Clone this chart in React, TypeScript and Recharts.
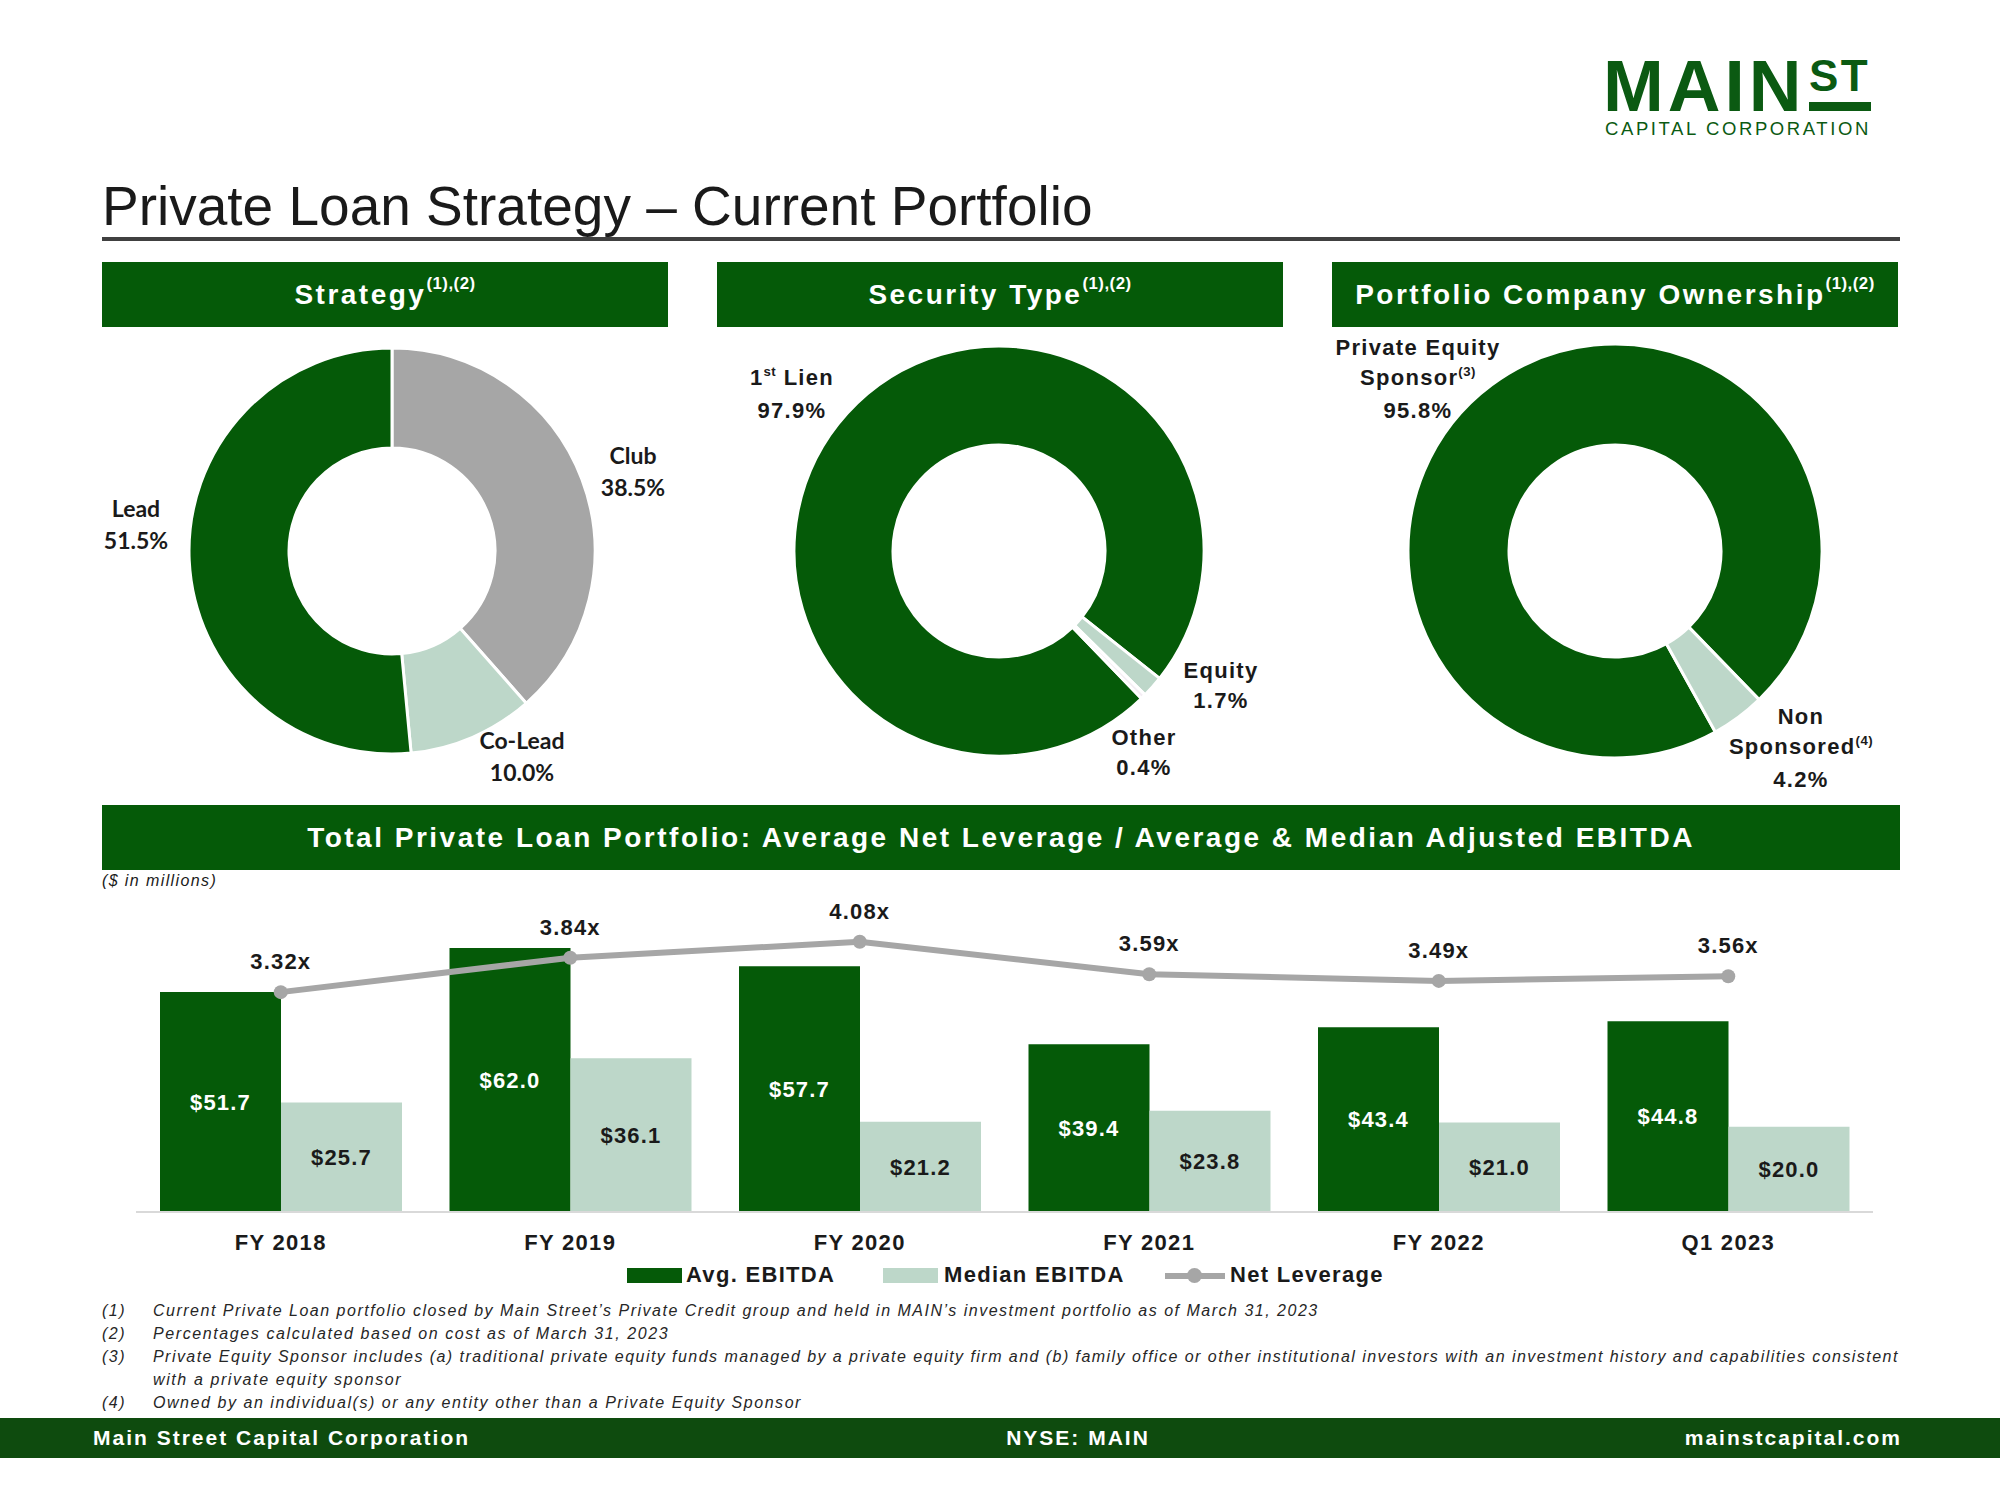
import React from 'react';
import { PieChart, Pie, Cell, ComposedChart, Bar, Line, XAxis, YAxis, LabelList } from 'recharts';

const SANS = '"Liberation Sans", Arial, Helvetica, sans-serif';
const CALIBRI = 'Lato, "Open Sans", sans-serif';

const DARK = '#055A08';
const LIGHT = '#BDD7C9';
const GRAY = '#A6A6A6';
const OTHER = '#F4EEF4';
const FOOT = '#0E4B0E';
const INK = '#1A1A1A';
const LOGO = '#0B5A12';

// ---- Donut data ----
const strategyNames = ['Club', 'Co-Lead', 'Lead'];
const strategyValues = [38.5, 10.0, 51.5];
const strategyColors = [GRAY, LIGHT, DARK];
const strategyLabelPos = [[633, 439], [522, 724], [136, 492]];

const securityNames = ['1st Lien', 'Equity', 'Other'];
const securityValues = [97.9, 1.7, 0.4];
const securityColors = [DARK, LIGHT, OTHER];
const securityLabelPos = [[792, 363], [1221, 656], [1144, 723]];

const ownershipNames = ['Private Equity\nSponsor', 'Non\nSponsored'];
const ownershipNotes = ['(3)', '(4)'];
const ownershipValues = [95.8, 4.2];
const ownershipColors = [DARK, LIGHT];
const ownershipLabelPos = [[1418, 333], [1801, 702]];

// ---- Bar / line data ----
const periods = ['FY 2018', 'FY 2019', 'FY 2020', 'FY 2021', 'FY 2022', 'Q1 2023'];
const avgEbitda = [51.7, 62.0, 57.7, 39.4, 43.4, 44.8];
const medianEbitda = [25.7, 36.1, 21.2, 23.8, 21.0, 20.0];
const netLeverage = [3.32, 3.84, 4.08, 3.59, 3.49, 3.56];

const barData = periods.map((p, i) => ({ period: p, avg: avgEbitda[i], median: medianEbitda[i], lev: netLeverage[i] }));

const footnotes = [
  'Current Private Loan portfolio closed by Main Street\u2019s Private Credit group and held in MAIN\u2019s investment portfolio as of March 31, 2023',
  'Percentages calculated based on cost as of March 31, 2023',
  'Private Equity Sponsor includes (a) traditional private equity funds managed by a private equity firm and (b) family office or other institutional investors with an investment history and capabilities consistent',
  'with a private equity sponsor',
  'Owned by an individual(s) or any entity other than a Private Equity Sponsor',
];
const footnoteMarks = ['(1)', '(2)', '(3)', '', '(4)'];
const footnoteSpacing = [1.5, 1.6, 1.45, 1.6, 1.55];

const supStyle: React.CSSProperties = { fontSize: '0.6em', position: 'relative', top: '-0.65em', letterSpacing: 0.5 };

function renderName(name: string) {
  const m = name.match(/^(\d)(st)(.*)$/);
  if (m) return (<>{m[1]}<span style={supStyle}>{m[2]}</span>{m[3]}</>);
  return name;
}

function DonutLabels({ names, values, pos, notes, font, size, lh, spacing }: any) {
  return (
    <>
      {names.map((n: string, i: number) => {
        const lines = n.split('\n');
        return (
          <div key={i} style={{ position: 'absolute', left: pos[i][0], top: pos[i][1], transform: 'translateX(-50%)', textAlign: 'center', fontFamily: font, fontWeight: 700, fontSize: size, lineHeight: lh + 'px', color: INK, letterSpacing: spacing, whiteSpace: 'nowrap' }}>
            {lines.map((l, j) => (
              <div key={j}>{renderName(l)}{notes && j === lines.length - 1 ? <span style={supStyle}>{notes[i]}</span> : null}</div>
            ))}
            <div>{values[i].toFixed(1)}%</div>
          </div>
        );
      })}
    </>
  );
}

function Donut({ names, values, colors, cx, cy, outer, inner, start }: any) {
  const data = names.map((n: string, i: number) => ({ name: n, value: values[i] }));
  const size = 2 * outer + 20;
  return (
    <div style={{ position: 'absolute', left: cx - size / 2, top: cy - size / 2, width: size, height: size }}>
      <PieChart width={size} height={size} margin={{ top: 0, right: 0, bottom: 0, left: 0 }}>
        <Pie data={data} dataKey="value" nameKey="name" cx={size / 2} cy={size / 2} outerRadius={outer} innerRadius={inner}
          startAngle={start} endAngle={start - 360} stroke="#FFFFFF" strokeWidth={3} isAnimationActive={false}>
          {data.map((d: any, i: number) => <Cell key={i} fill={colors[i]} />)}
        </Pie>
      </PieChart>
    </div>
  );
}

function HeaderBox({ left, top, width, height, children }: any) {
  return (
    <div style={{ position: 'absolute', left, top, width, height, background: DARK, color: '#FFFFFF', display: 'flex', alignItems: 'center', justifyContent: 'center', fontFamily: SANS, fontWeight: 700, fontSize: 28, letterSpacing: 2.5, whiteSpace: 'nowrap' }}>
      {children}
    </div>
  );
}

const XTick = (props: any) => {
  const { x, y, payload } = props;
  return (
    <text x={x} y={y} dy={36} textAnchor="middle" fill={INK} fontFamily={SANS} fontWeight={700} fontSize={22} style={{ letterSpacing: 1.3 }}>
      {payload.value}
    </text>
  );
};

const legendText: React.CSSProperties = { position: 'absolute', top: 1262, fontFamily: SANS, fontWeight: 700, fontSize: 22, letterSpacing: 1.3, lineHeight: '26px', color: INK, whiteSpace: 'nowrap' };
const footText: React.CSSProperties = { position: 'absolute', top: 1418, lineHeight: '40px', fontFamily: SANS, fontWeight: 700, fontSize: 21, letterSpacing: 2, color: '#FFFFFF', whiteSpace: 'nowrap' };

export default function App() {
  return (
    <div style={{ position: 'absolute', left: 0, top: 0, width: 2000, height: 1500, background: '#FFFFFF', overflow: 'hidden', fontFamily: SANS }}>
      {/* Logo */}
      <div style={{ position: 'absolute', left: 1603, top: 58, fontFamily: SANS, fontWeight: 700, fontSize: 73, color: LOGO, lineHeight: '56px', letterSpacing: 4 }}>MAIN</div>
      <div style={{ position: 'absolute', left: 1809, top: 56, fontFamily: SANS, fontWeight: 700, fontSize: 44, color: LOGO, lineHeight: '40px', letterSpacing: 2.5 }}>ST</div>
      <div style={{ position: 'absolute', left: 1809, top: 102, width: 62, height: 9, background: LOGO }} />
      <div style={{ position: 'absolute', left: 1605, top: 120, fontFamily: SANS, fontSize: 18.5, color: LOGO, letterSpacing: 2.6, lineHeight: '18px', whiteSpace: 'nowrap' }}>CAPITAL CORPORATION</div>

      {/* Title */}
      <div style={{ position: 'absolute', left: 102, top: 176, fontFamily: SANS, fontSize: 55, color: INK, letterSpacing: 0, lineHeight: '60px', whiteSpace: 'nowrap' }}>Private Loan Strategy – Current Portfolio</div>
      <div style={{ position: 'absolute', left: 102, top: 237, width: 1798, height: 4, background: '#404040' }} />

      {/* Section headers */}
      <HeaderBox left={102} top={262} width={566} height={65}>Strategy<span style={supStyle}>(1),(2)</span></HeaderBox>
      <HeaderBox left={717} top={262} width={566} height={65}>Security Type<span style={supStyle}>(1),(2)</span></HeaderBox>
      <HeaderBox left={1332} top={262} width={566} height={65}>Portfolio Company Ownership<span style={supStyle}>(1),(2)</span></HeaderBox>

      {/* Donuts */}
      <Donut names={strategyNames} values={strategyValues} colors={strategyColors} cx={392} cy={551} outer={203} inner={103} start={90} />
      <Donut names={securityNames} values={securityValues} colors={securityColors} cx={999} cy={551} outer={205} inner={106} start={-46} />
      <Donut names={ownershipNames} values={ownershipValues} colors={ownershipColors} cx={1615} cy={551} outer={207} inner={106} start={-61} />

      <DonutLabels names={strategyNames} values={strategyValues} pos={strategyLabelPos} font={CALIBRI} size={23} lh={32} spacing={0} />
      <DonutLabels names={securityNames} values={securityValues} pos={securityLabelPos} font={SANS} size={22} lh={30} spacing={1.3} />
      <DonutLabels names={ownershipNames} values={ownershipValues} pos={ownershipLabelPos} notes={ownershipNotes} font={SANS} size={22} lh={30} spacing={1.3} />

      {/* Bottom header */}
      <HeaderBox left={102} top={805} width={1798} height={65}>Total Private Loan Portfolio: Average Net Leverage / Average &amp; Median Adjusted EBITDA</HeaderBox>
      <div style={{ position: 'absolute', left: 102, top: 870, fontFamily: SANS, fontStyle: 'italic', fontSize: 16, color: INK, letterSpacing: 1.4, lineHeight: '22px' }}>($ in millions)</div>

      {/* Bar + line chart */}
      <div style={{ position: 'absolute', left: 0, top: 860, width: 2000, height: 420 }}>
        <ComposedChart width={2000} height={420} data={barData} margin={{ top: 54, right: 127, bottom: 28, left: 136 }} barGap={0} barSize={121}>
          <XAxis dataKey="period" height={40} tickLine={false} tickSize={0} axisLine={{ stroke: '#D9D9D9', strokeWidth: 2 }} tick={<XTick />} interval={0} />
          <YAxis yAxisId="l" hide domain={[0, 70]} />
          <YAxis yAxisId="r" hide orientation="right" domain={[0, 4.5]} />
          <Bar yAxisId="l" dataKey="avg" fill={DARK} isAnimationActive={false}>
            <LabelList dataKey="avg" position="center" fill="#FFFFFF" fontFamily={SANS} fontWeight={700} fontSize={22} style={{ letterSpacing: 1.2 }} formatter={(v: any) => `$${Number(v).toFixed(1)}`} />
          </Bar>
          <Bar yAxisId="l" dataKey="median" fill={LIGHT} isAnimationActive={false}>
            <LabelList dataKey="median" position="center" fill={INK} fontFamily={SANS} fontWeight={700} fontSize={22} style={{ letterSpacing: 1.2 }} formatter={(v: any) => `$${Number(v).toFixed(1)}`} />
          </Bar>
          <Line yAxisId="r" type="linear" dataKey="lev" stroke={GRAY} strokeWidth={6} dot={{ r: 7, fill: GRAY, stroke: GRAY, strokeWidth: 0 }} isAnimationActive={false}>
            <LabelList dataKey="lev" position="top" offset={23} fill={INK} fontFamily={SANS} fontWeight={700} fontSize={22} style={{ letterSpacing: 1.2 }} formatter={(v: any) => `${Number(v).toFixed(2)}x`} />
          </Line>
        </ComposedChart>
      </div>

      {/* Legend */}
      <div style={{ position: 'absolute', left: 627, top: 1268, width: 55, height: 15, background: DARK }} />
      <div style={{ ...legendText, left: 686 }}>Avg. EBITDA</div>
      <div style={{ position: 'absolute', left: 883, top: 1268, width: 55, height: 15, background: LIGHT }} />
      <div style={{ ...legendText, left: 944 }}>Median EBITDA</div>
      <div style={{ position: 'absolute', left: 1165, top: 1273, width: 60, height: 6, background: GRAY }} />
      <div style={{ position: 'absolute', left: 1187, top: 1268, width: 15, height: 15, borderRadius: 8, background: GRAY }} />
      <div style={{ ...legendText, left: 1230 }}>Net Leverage</div>

      {/* Footnotes */}
      {footnotes.map((f, i) => (
        <React.Fragment key={i}>
          <div style={{ position: 'absolute', left: 102, top: 1300 + i * 23, fontFamily: SANS, fontStyle: 'italic', fontSize: 16, color: '#262626', letterSpacing: 1.5, lineHeight: '22px', whiteSpace: 'nowrap' }}>{footnoteMarks[i]}</div>
          <div style={{ position: 'absolute', left: 153, top: 1300 + i * 23, fontFamily: SANS, fontStyle: 'italic', fontSize: 16, color: '#262626', letterSpacing: footnoteSpacing[i], lineHeight: '22px', whiteSpace: 'nowrap' }}>{f}</div>
        </React.Fragment>
      ))}

      {/* Footer */}
      <div style={{ position: 'absolute', left: 0, top: 1418, width: 2000, height: 40, background: FOOT }} />
      <div style={{ ...footText, left: 93 }}>Main Street Capital Corporation</div>
      <div style={{ ...footText, left: 1078, transform: 'translateX(-50%)' }}>NYSE: MAIN</div>
      <div style={{ ...footText, right: 98 }}>mainstcapital.com</div>
    </div>
  );
}
